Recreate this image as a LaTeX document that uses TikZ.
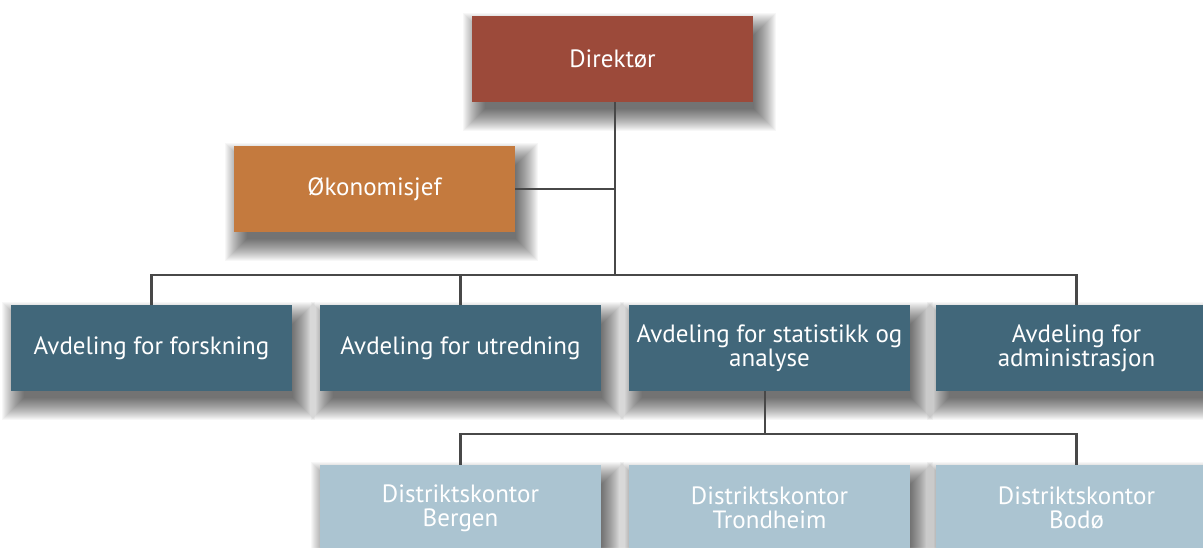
\documentclass[tikz,border=0pt]{standalone}
\usepackage{fontspec}
\setmainfont{PT Sans}
\usetikzlibrary{backgrounds}

\definecolor{dircol}{HTML}{9C4A3A}
\definecolor{okocol}{HTML}{C47A3E}
\definecolor{avdcol}{HTML}{41677A}
\definecolor{dkcol}{HTML}{ABC4D1}
\definecolor{linecol}{HTML}{484848}

\begin{document}
\begin{tikzpicture}[x=1pt,y=-1pt]

\tikzset{box/.style = {rectangle, minimum width=281pt, minimum height=86pt, inner sep=0pt,
  align=center, text=white, font=\fontsize{25}{24}\selectfont}}
\tikzset{edge/.style = {draw=linecol, line width=2.4pt}}
\tikzset{shade step/.style = {fill=black, opacity=0.03}}

\clip (0,0) rectangle (1203,547);

%boxes
\node[box, fill=dircol] (dir) at (612.5,59) {Direktør};
\node[box, fill=okocol] (oko) at (374.5,189) {Økonomisjef};
\node[box, fill=avdcol] (forsk) at (151.5,348) {Avdeling for forskning};
\node[box, fill=avdcol] (utred) at (460.5,348) {Avdeling for utredning};
\node[box, fill=avdcol] (stat) at (769.5,348) {Avdeling for statistikk og\\analyse};
\node[box, fill=avdcol] (admin) at (1076.5,348) {Avdeling for\\administrasjon};
\node[box, fill=dkcol] (bergen) at (460.5,508) {Distriktskontor\\Bergen};
\node[box, fill=dkcol] (trond) at (769.5,508) {Distriktskontor\\Trondheim};
\node[box, fill=dkcol] (bodo) at (1076.5,508) {Distriktskontor\\Bodø};

\coordinate (bus) at (615,275);
\coordinate (bus2) at (765,434);

%shadows
\begin{scope}[on background layer]
\fill[white] (0,0) rectangle (1203,547);
\foreach \n in {dir,oko,forsk,utred,stat,admin,bergen,trond,bodo}
  \foreach \s in {16,15,...,-6}
    \fill[shade step] ([shift={(7-\s,13-\s)}]\n.north west) rectangle ([shift={(7+\s,13+\s)}]\n.south east);
\end{scope}

%edges
\draw[edge] (dir.south -| bus) -- (bus);
\draw[edge] (oko.east) -- (oko.east -| bus);
\draw[edge] (forsk.north) -- (forsk.north |- bus) -- (admin.north |- bus) -- (admin.north);
\draw[edge] (utred.north) -- (utred.north |- bus);
\draw[edge] (stat.south -| bus2) -- (bus2);
\draw[edge] (bergen.north) -- (bergen.north |- bus2) -- (bodo.north |- bus2) -- (bodo.north);

\end{tikzpicture}
\end{document}
